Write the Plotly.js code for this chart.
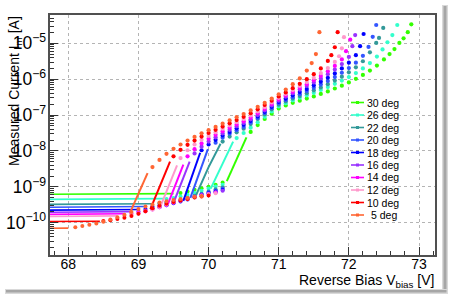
<!DOCTYPE html>
<html>
<head>
<meta charset="utf-8">
<script src="https://cdn.plot.ly/plotly-3.0.1.min.js"></script>
<style>html,body{margin:0;padding:0;background:#fff;}#chart{width:450px;height:298px;}</style>
</head>
<body>
<div id="chart"></div>
<script>
// ---- data (current given as log10 of amperes) ----
const seriesNames = ['30 deg','26 deg','22 deg','20 deg','18 deg','16 deg','14 deg','12 deg','10 deg','5 deg'];

// flat part at low bias (solid)
const flatV = [[67.6,69.5],[67.6,69.35],[67.6,69.2],[67.6,69.1],[67.6,69.0],[67.6,68.9],[67.6,68.8],[67.6,68.7],[67.6,68.45],[67.6,68.0]];
const flatLogI = [[-9.21,-9.19],[-9.35,-9.33],[-9.49,-9.47],[-9.57,-9.55],[-9.65,-9.63],[-9.71,-9.69],[-9.77,-9.75],[-9.83,-9.81],[-9.97,-9.96],[-10.16,-10.15]];

// lower dotted branch
const lowV = [
  [69.6,69.7,69.8,69.9,70.0,70.1,70.2],
  [69.4,69.5,69.6,69.7,69.8,69.9,70.0,70.1,70.2],
  [69.3,69.4,69.5,69.6,69.7,69.8,69.9,70.0,70.1,70.2],
  [69.2,69.3,69.4,69.5,69.6,69.7,69.8,69.9,70.0,70.1,70.2],
  [69.1,69.2,69.3,69.4,69.5,69.6,69.7,69.8,69.9,70.0,70.1,70.2],
  [69.0,69.1,69.2,69.3,69.4,69.5,69.6,69.7,69.8,69.9,70.0,70.1,70.2],
  [68.9,69.0,69.1,69.2,69.3,69.4,69.5,69.6,69.7,69.8,69.9,70.0,70.1],
  [68.8,68.9,69.0,69.1,69.2,69.3,69.4,69.5,69.6,69.7,69.8,69.9,70.0,70.1],
  [68.5,68.6,68.7,68.8,68.9,69.0,69.1,69.2,69.3,69.4,69.5,69.6,69.7,69.8,69.9,70.0],
  [68.1,68.2,68.3,68.4,68.5,68.6,68.7,68.8,68.9,69.0,69.1,69.2,69.3,69.4,69.5,69.6,69.7,69.8,69.9]
];
const lowLogI = [
  [-9.17,-9.13,-9.08,-9.04,-9.00,-8.94,-8.88],
  [-9.34,-9.31,-9.27,-9.22,-9.17,-9.11,-9.05,-8.99,-8.94],
  [-9.46,-9.43,-9.40,-9.36,-9.31,-9.25,-9.19,-9.13,-9.07,-9.02],
  [-9.54,-9.51,-9.47,-9.43,-9.38,-9.33,-9.27,-9.21,-9.15,-9.10,-9.05],
  [-9.62,-9.59,-9.56,-9.51,-9.46,-9.41,-9.35,-9.29,-9.23,-9.18,-9.13,-9.09],
  [-9.68,-9.66,-9.62,-9.57,-9.51,-9.45,-9.39,-9.33,-9.28,-9.23,-9.19,-9.15,-9.11],
  [-9.74,-9.72,-9.68,-9.63,-9.57,-9.50,-9.44,-9.38,-9.33,-9.28,-9.24,-9.20,-9.16],
  [-9.80,-9.78,-9.74,-9.69,-9.63,-9.56,-9.49,-9.43,-9.38,-9.33,-9.29,-9.25,-9.21,-9.18],
  [-9.95,-9.93,-9.90,-9.86,-9.81,-9.75,-9.68,-9.60,-9.53,-9.47,-9.42,-9.38,-9.34,-9.30,-9.27,-9.24],
  [-10.13,-10.09,-10.06,-10.02,-9.97,-9.91,-9.85,-9.78,-9.70,-9.62,-9.55,-9.49,-9.44,-9.40,-9.37,-9.34,-9.31,-9.28,-9.26]
];

// steep jump (solid)
const jumpV = [[70.26,70.54],[70.03,70.35],[69.82,70.0,70.17],[69.74,69.99],[69.64,69.88],[69.50,69.73],[69.42,69.64],[69.32,69.55],[69.17,69.45],[68.88,69.13]];
const jumpLogI = [[-8.84,-7.62],[-9.05,-7.74],[-9.24,-8.45,-7.80],[-9.31,-7.95],[-9.39,-8.05],[-9.45,-8.30],[-9.48,-8.38],[-9.52,-8.40],[-9.62,-8.30],[-9.72,-8.62]];

// upper dotted branch
const highV = [
  [70.6,70.7,70.8,70.9,71.0,71.1,71.2,71.3,71.4,71.5,71.6,71.7,71.8,71.9,72.0,72.1,72.2,72.3,72.4,72.5,72.58,72.65,72.72,72.78,72.84,72.89],
  [70.4,70.5,70.6,70.7,70.8,70.9,71.0,71.1,71.2,71.3,71.4,71.5,71.6,71.7,71.8,71.9,72.0,72.1,72.2,72.3,72.4,72.48,72.55,72.62,72.69],
  [70.2,70.3,70.4,70.5,70.6,70.7,70.8,70.9,71.0,71.1,71.2,71.3,71.4,71.5,71.6,71.7,71.8,71.9,72.0,72.1,72.2,72.3,72.39,72.43,72.49],
  [70.1,70.2,70.3,70.4,70.5,70.6,70.7,70.8,70.9,71.0,71.1,71.2,71.3,71.4,71.5,71.6,71.7,71.8,71.9,72.0,72.1,72.2,72.28,72.34,72.39],
  [69.9,70.0,70.1,70.2,70.3,70.4,70.5,70.6,70.7,70.8,70.9,71.0,71.1,71.2,71.3,71.4,71.5,71.6,71.7,71.8,71.9,72.0,72.1,72.16,72.21],
  [69.8,69.9,70.0,70.1,70.2,70.3,70.4,70.5,70.6,70.7,70.8,70.9,71.0,71.1,71.2,71.3,71.4,71.5,71.6,71.7,71.8,71.9,72.0,72.05,72.09],
  [69.7,69.8,69.9,70.0,70.1,70.2,70.3,70.4,70.5,70.6,70.7,70.8,70.9,71.0,71.1,71.2,71.3,71.4,71.5,71.6,71.7,71.8,71.9,71.96,72.02],
  [69.6,69.7,69.8,69.9,70.0,70.1,70.2,70.3,70.4,70.5,70.6,70.7,70.8,70.9,71.0,71.1,71.2,71.3,71.4,71.5,71.6,71.7,71.8,71.86,71.9,71.93],
  [69.5,69.6,69.7,69.8,69.9,70.0,70.1,70.2,70.3,70.4,70.5,70.6,70.7,70.8,70.9,71.0,71.1,71.2,71.3,71.4,71.5,71.6,71.7,71.75,71.8,71.84],
  [69.2,69.3,69.4,69.5,69.6,69.7,69.8,69.9,70.0,70.1,70.2,70.3,70.4,70.5,70.6,70.7,70.8,70.9,71.0,71.1,71.2,71.3,71.4,71.47,71.53,71.58]
];
const highLogI = [
  [-7.47,-7.28,-7.11,-6.96,-6.82,-6.73,-6.66,-6.60,-6.54,-6.48,-6.41,-6.34,-6.26,-6.18,-6.09,-5.99,-5.88,-5.76,-5.62,-5.45,-5.30,-5.16,-4.99,-4.86,-4.69,-4.47],
  [-7.64,-7.50,-7.35,-7.20,-7.05,-6.90,-6.76,-6.67,-6.59,-6.52,-6.45,-6.38,-6.30,-6.22,-6.13,-6.04,-5.94,-5.83,-5.70,-5.55,-5.37,-5.17,-4.97,-4.77,-4.49],
  [-7.74,-7.60,-7.48,-7.38,-7.25,-7.11,-6.98,-6.84,-6.71,-6.62,-6.54,-6.47,-6.39,-6.31,-6.23,-6.14,-6.04,-5.93,-5.81,-5.67,-5.50,-5.25,-4.99,-4.85,-4.57],
  [-7.77,-7.63,-7.52,-7.42,-7.33,-7.21,-7.08,-6.94,-6.80,-6.67,-6.58,-6.50,-6.42,-6.33,-6.24,-6.15,-6.05,-5.94,-5.82,-5.69,-5.54,-5.35,-5.10,-4.82,-4.49],
  [-7.98,-7.82,-7.69,-7.57,-7.47,-7.37,-7.27,-7.16,-7.04,-6.91,-6.77,-6.63,-6.54,-6.45,-6.36,-6.27,-6.17,-6.07,-5.96,-5.84,-5.70,-5.54,-5.33,-5.08,-4.74],
  [-8.07,-7.88,-7.74,-7.62,-7.51,-7.41,-7.31,-7.22,-7.12,-7.00,-6.87,-6.73,-6.60,-6.49,-6.39,-6.29,-6.19,-6.09,-5.98,-5.86,-5.73,-5.58,-5.38,-5.08,-4.77],
  [-8.15,-7.95,-7.79,-7.66,-7.55,-7.45,-7.35,-7.26,-7.17,-7.07,-6.95,-6.83,-6.69,-6.56,-6.45,-6.35,-6.24,-6.14,-6.03,-5.91,-5.78,-5.63,-5.45,-5.22,-4.90],
  [-8.20,-7.98,-7.82,-7.69,-7.58,-7.48,-7.38,-7.29,-7.20,-7.11,-7.01,-6.90,-6.78,-6.65,-6.52,-6.41,-6.30,-6.19,-6.08,-5.96,-5.83,-5.69,-5.52,-5.36,-5.14,-4.83],
  [-8.15,-7.97,-7.83,-7.71,-7.60,-7.50,-7.41,-7.32,-7.23,-7.14,-7.05,-6.95,-6.84,-6.72,-6.60,-6.48,-6.37,-6.25,-6.13,-6.00,-5.86,-5.70,-5.49,-5.33,-5.11,-4.69],
  [-8.45,-8.25,-8.08,-7.94,-7.82,-7.71,-7.61,-7.51,-7.42,-7.33,-7.24,-7.15,-7.06,-6.97,-6.87,-6.77,-6.66,-6.54,-6.42,-6.29,-6.14,-5.98,-5.76,-5.55,-5.30,-4.69]
];

// ---- styling ----
const colors = ['#33ff00','#33ffcc','#339999','#3355ff','#0000ff','#9933ff','#ff00ff','#ff99cc','#ff0000','#ff6633'];
const toAmp = a => a.map(v => Math.pow(10, v));

const traces = [];
seriesNames.forEach((name, k) => {
  const c = colors[k];
  traces.push({x: flatV[k], y: toAmp(flatLogI[k]), mode: 'lines', line: {color: c, width: 1.6}, showlegend: false, hoverinfo: 'skip'});
  traces.push({x: lowV[k], y: toAmp(lowLogI[k]), mode: 'markers', marker: {color: c, size: 4, symbol: 'circle', line: {width: 0}}, showlegend: false});
  traces.push({x: jumpV[k], y: toAmp(jumpLogI[k]), mode: 'lines', line: {color: c, width: 2}, showlegend: false, hoverinfo: 'skip'});
  traces.push({x: highV[k], y: toAmp(highLogI[k]), mode: 'markers', marker: {color: c, size: 4.2, symbol: 'circle', line: {width: 0}}, showlegend: false});
});

// pixel helpers for layout decorations (plot area: x 50..435, y 15..255)
const PL = 50, PR = 435, PT = 15, PB = 255;
const px = p => (p - PL) / (PR - PL);
const py = p => (PB - p) / (PB - PT);

const shapes = [];
const annotations = [];
// legend
const legTop = 102.5, legStep = 12.5;
seriesNames.forEach((name, k) => {
  const yy = legTop + k * legStep;
  shapes.push({type: 'line', xref: 'paper', yref: 'paper', x0: px(351), x1: px(364), y0: py(yy), y1: py(yy), line: {color: colors[k], width: 1.6}});
  shapes.push({type: 'rect', xref: 'paper', yref: 'paper', x0: px(356), x1: px(359), y0: py(yy - 1.5), y1: py(yy + 1.5), line: {width: 0}, fillcolor: colors[k]});
  annotations.push({xref: 'paper', yref: 'paper', x: px(name === '5 deg' ? 369 : 365), y: py(yy), xanchor: 'left', yanchor: 'middle', showarrow: false, text: name, font: {family: 'Liberation Sans, Arial, sans-serif', size: 10.5, color: '#000'}});
});
// axis titles
annotations.push({xref: 'paper', yref: 'paper', x: px(436), y: py(270), xanchor: 'right', yanchor: 'top', showarrow: false,
  text: 'Reverse Bias V<sub>bias</sub> [V]', font: {family: 'Liberation Sans, Arial, sans-serif', size: 14, color: '#000'}});
annotations.push({xref: 'paper', yref: 'paper', x: px(15), y: py(14), xanchor: 'center', yanchor: 'top', textangle: -90, showarrow: false,
  text: 'Measured Current I<sub>m</sub> [A]', font: {family: 'Liberation Sans, Arial, sans-serif', size: 14, color: '#000'}});
// canvas shadow
shapes.push({type: 'rect', xref: 'paper', yref: 'paper', x0: px(442), x1: px(448), y0: py(5), y1: py(294), line: {width: 0}, fillcolor: '#d9d9d9', layer: 'below'});
shapes.push({type: 'rect', xref: 'paper', yref: 'paper', x0: px(443.5), x1: px(446.5), y0: py(6), y1: py(292.5), line: {width: 0}, fillcolor: '#a6a6a6', layer: 'below'});
shapes.push({type: 'rect', xref: 'paper', yref: 'paper', x0: px(5), x1: px(448), y0: py(289), y1: py(294), line: {width: 0}, fillcolor: '#d9d9d9', layer: 'below'});
shapes.push({type: 'rect', xref: 'paper', yref: 'paper', x0: px(6), x1: px(446.5), y0: py(290), y1: py(292.5), line: {width: 0}, fillcolor: '#a6a6a6', layer: 'below'});

const axisFont = {family: 'Liberation Sans, Arial, sans-serif', size: 14, color: '#000'};
const layout = {
  width: 450, height: 298,
  margin: {l: PL, r: 450 - PR, t: PT, b: 298 - PB, pad: 0},
  paper_bgcolor: '#fff', plot_bgcolor: '#fff',
  showlegend: false,
  xaxis: {
    range: [67.739, 73.228], tick0: 68, dtick: 1, ticks: 'inside', ticklen: 8, tickwidth: 1, tickcolor: '#333',
    showline: true, mirror: true, linecolor: '#505050', linewidth: 2, automargin: false,
    showgrid: true, gridcolor: '#b4b4b4', griddash: 'dot', gridwidth: 1, zeroline: false,
    tickfont: axisFont, ticklabelstandoff: -5,
    minor: {ticks: 'inside', ticklen: 4, tick0: 68, dtick: 0.2, tickcolor: '#333', showgrid: false}
  },
  yaxis: {
    type: 'log', range: [-10.90, -4.211], dtick: 1, exponentformat: 'power',
    ticks: 'inside', ticklen: 8, tickwidth: 1, tickcolor: '#333',
    showline: true, mirror: true, linecolor: '#505050', linewidth: 2, automargin: false,
    showgrid: true, gridcolor: '#b4b4b4', griddash: 'dot', gridwidth: 1, zeroline: false,
    tickfont: axisFont, ticklabelstandoff: -1,
    minor: {ticks: 'inside', ticklen: 4, dtick: 'D1', tickcolor: '#333', showgrid: false}
  },
  shapes: shapes,
  annotations: annotations
};

Plotly.newPlot('chart', traces, layout, {staticPlot: true, displayModeBar: false});
</script>
</body>
</html>
